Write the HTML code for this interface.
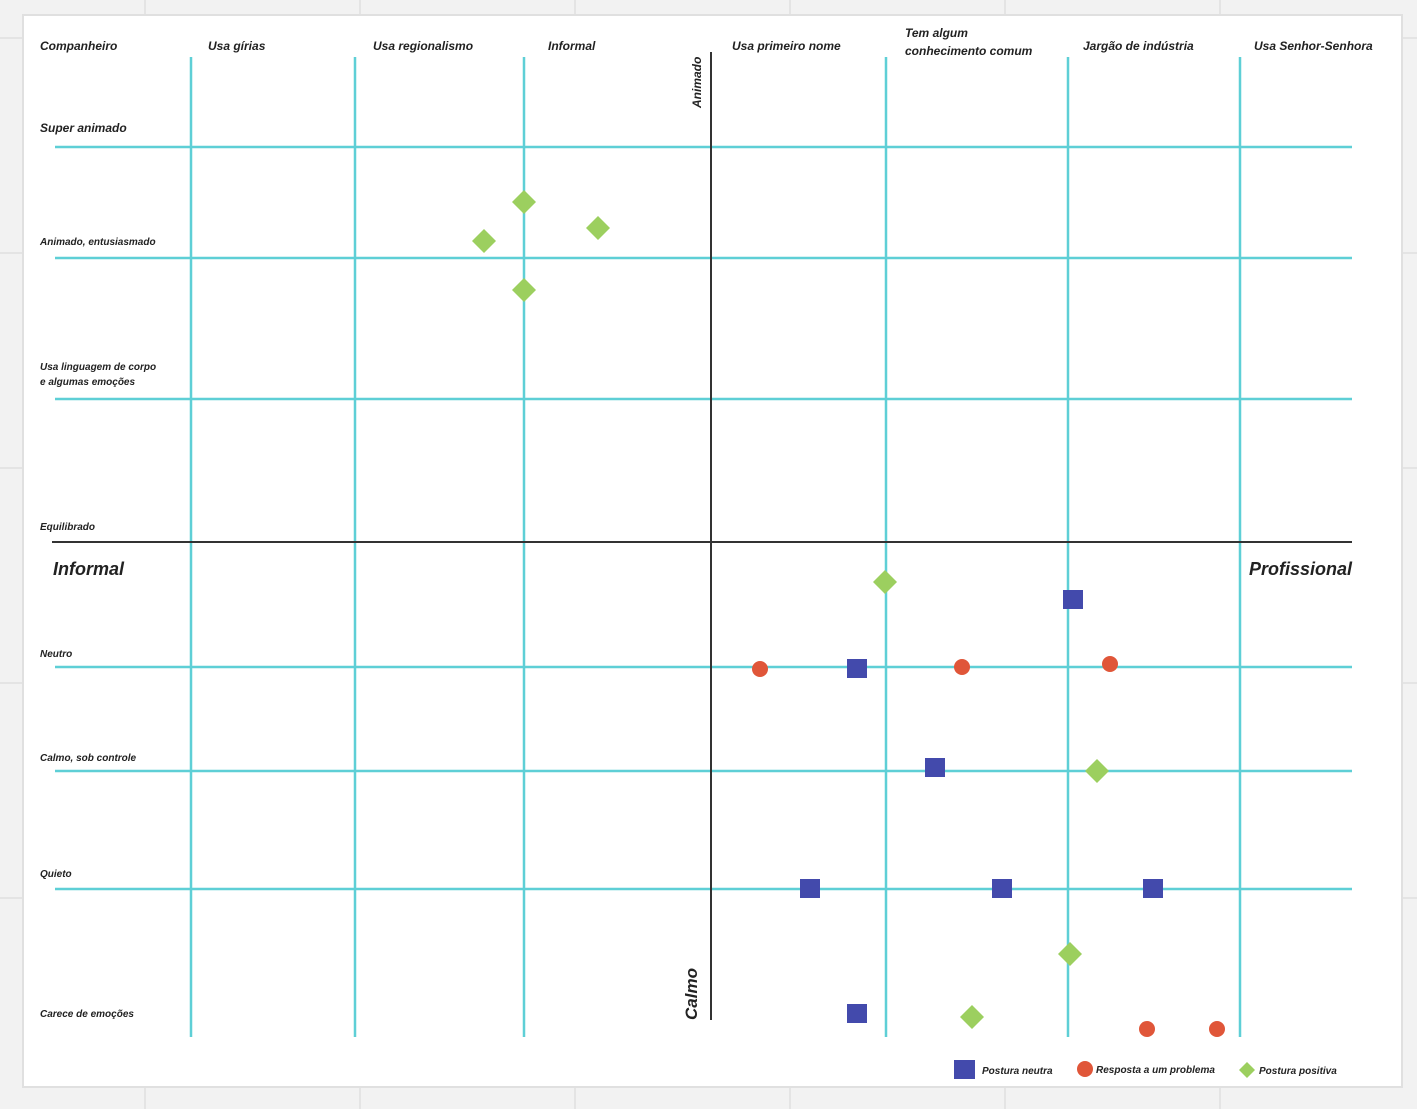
<!DOCTYPE html>
<html><head><meta charset="utf-8"><style>
body{margin:0;background:#f2f2f2;}
svg{display:block}
text{font-family:"Liberation Sans",sans-serif;font-style:italic;font-weight:bold;fill:#222}
</style></head><body>
<svg width="1417" height="1109" xmlns="http://www.w3.org/2000/svg">
<g stroke="#e4e4e4" stroke-width="2">
<line x1="145" y1="0" x2="145" y2="1109"/><line x1="360" y1="0" x2="360" y2="1109"/><line x1="575" y1="0" x2="575" y2="1109"/><line x1="790" y1="0" x2="790" y2="1109"/><line x1="1005" y1="0" x2="1005" y2="1109"/><line x1="1220" y1="0" x2="1220" y2="1109"/>
<line x1="0" y1="38" x2="1417" y2="38"/><line x1="0" y1="253" x2="1417" y2="253"/><line x1="0" y1="468" x2="1417" y2="468"/><line x1="0" y1="683" x2="1417" y2="683"/><line x1="0" y1="898" x2="1417" y2="898"/>
</g>
<rect x="23" y="15" width="1379" height="1072" fill="#fff" stroke="#e0e0e0" stroke-width="2"/>
<g stroke="#5ecfd6" stroke-width="2.5">
<line x1="191" y1="57" x2="191" y2="1037"/><line x1="355" y1="57" x2="355" y2="1037"/><line x1="524" y1="57" x2="524" y2="1037"/><line x1="886" y1="57" x2="886" y2="1037"/><line x1="1068" y1="57" x2="1068" y2="1037"/><line x1="1240" y1="57" x2="1240" y2="1037"/>
<line x1="55" y1="147" x2="1352" y2="147"/><line x1="55" y1="258" x2="1352" y2="258"/><line x1="55" y1="399" x2="1352" y2="399"/><line x1="55" y1="667" x2="1352" y2="667"/><line x1="55" y1="771" x2="1352" y2="771"/><line x1="55" y1="889" x2="1352" y2="889"/>
</g>
<g stroke="#333" stroke-width="2">
<line x1="711" y1="52" x2="711" y2="1020"/><line x1="52" y1="542" x2="1352" y2="542"/>
</g>
<g font-size="12">
<text x="40" y="50">Companheiro</text><text x="208" y="50">Usa gírias</text><text x="373" y="50">Usa regionalismo</text><text x="548" y="50">Informal</text><text x="732" y="50">Usa primeiro nome</text><text x="905" y="37">Tem algum</text><text x="905" y="55">conhecimento comum</text><text x="1083" y="50">Jargão de indústria</text><text x="1254" y="50">Usa Senhor-Senhora</text>
<text x="40" y="132">Super animado</text>
</g>
<g font-size="10">
<text x="40" y="245">Animado, entusiasmado</text><text x="40" y="370">Usa linguagem de corpo</text><text x="40" y="385">e algumas emoções</text><text x="40" y="530">Equilibrado</text><text x="40" y="657">Neutro</text><text x="40" y="761">Calmo, sob controle</text><text x="40" y="877">Quieto</text><text x="40" y="1017">Carece de emoções</text>
<text x="982" y="1074">Postura neutra</text><text x="1096" y="1073">Resposta a um problema</text><text x="1259" y="1074">Postura positiva</text>
</g>
<text font-size="12" transform="translate(701,108) rotate(-90)">Animado</text>
<text font-size="17" transform="translate(697,1020) rotate(-90)">Calmo</text>
<text font-size="18" x="53" y="575">Informal</text><text font-size="18" x="1352" y="575" text-anchor="end">Profissional</text>
<g fill="#9ccf5f">
<path d="M524 190l12 12-12 12-12-12z"/><path d="M598 216l12 12-12 12-12-12z"/><path d="M484 229l12 12-12 12-12-12z"/><path d="M524 278l12 12-12 12-12-12z"/><path d="M885 570l12 12-12 12-12-12z"/><path d="M1097 759l12 12-12 12-12-12z"/><path d="M1070 942l12 12-12 12-12-12z"/><path d="M972 1005l12 12-12 12-12-12z"/><path d="M1247 1062l8 8-8 8-8-8z"/>
</g>
<g fill="#434aac">
<rect x="1063" y="590" width="20" height="19"/><rect x="847" y="659" width="20" height="19"/><rect x="925" y="758" width="20" height="19"/><rect x="800" y="879" width="20" height="19"/><rect x="992" y="879" width="20" height="19"/><rect x="1143" y="879" width="20" height="19"/><rect x="847" y="1004" width="20" height="19"/><rect x="954" y="1060" width="21" height="19"/>
</g>
<g fill="#e05639">
<circle cx="760" cy="669" r="8"/><circle cx="962" cy="667" r="8"/><circle cx="1110" cy="664" r="8"/><circle cx="1147" cy="1029" r="8"/><circle cx="1217" cy="1029" r="8"/><circle cx="1085" cy="1069" r="8"/>
</g>
</svg>
</body></html>
